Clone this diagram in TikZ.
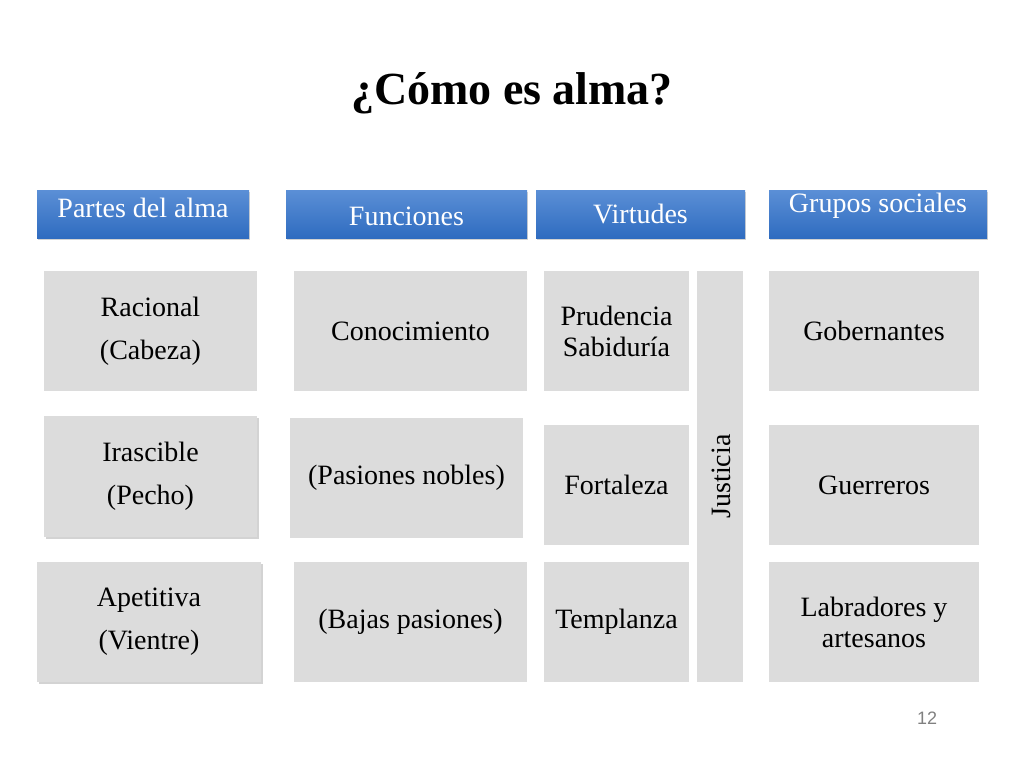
\documentclass[tikz,border=0pt]{standalone}
\usepackage{fontspec}
\setmainfont{Liberation Serif}
\setsansfont{Liberation Sans}
\usetikzlibrary{shadows}
\definecolor{hdrA}{HTML}{5B8FD6}
\definecolor{hdrB}{HTML}{2F6CC0}
\definecolor{boxg}{HTML}{DCDCDC}
\tikzset{x=1pt,y=-1pt,
 hdr/.style={top color=hdrA,bottom color=hdrB,draw=none,drop shadow={opacity=0.35,shadow xshift=1pt,shadow yshift=-2pt},text=white,font=\fontsize{28}{32}\selectfont},
 gbox/.style={fill=boxg,draw=none,font=\fontsize{28}{43}\selectfont},
 sbox/.style={gbox,drop shadow={opacity=0.35,shadow xshift=2pt,shadow yshift=-2pt}}}
\begin{document}
\begin{tikzpicture}
\useasboundingbox (0,0) rectangle (1024,768);
\node (title) at (512,93) {\fontsize{46}{50}\selectfont\bfseries ¿Cómo es alma?};
\path[hdr] (37,190) rectangle (249,238) node[midway,yshift=6pt] (h1) {Partes del alma};
\path[hdr] (286,190) rectangle (527,238) node[midway,yshift=-2pt] (h2) {Funciones};
\path[hdr] (536,190) rectangle (745,238) node[midway] (h3) {Virtudes};
\path[hdr] (769,190) rectangle (987,238) node[midway,yshift=8pt] (h4) {Grupos sociales};
\path[gbox] (44,271) rectangle (257,391) node[midway,align=center] (r1) {Racional\\(Cabeza)};
\path[gbox] (294,271) rectangle (527,391) node[midway] (f1) {Conocimiento};
\path[gbox] (544,271) rectangle (689,391) node[midway,align=center,font=\fontsize{28}{31}\selectfont] (v1) {Prudencia\\Sabiduría};
\path[gbox] (697,271) rectangle (743,682) node[midway,rotate=90,yshift=-1pt] (j) {Justicia};
\path[gbox] (769,271) rectangle (979,391) node[midway] (g1) {Gobernantes};
\path[sbox] (44,416) rectangle (257,537) node[midway,align=center] (r2) {Irascible\\(Pecho)};
\path[gbox] (290,418) rectangle (523,538) node[midway] (f2) {(Pasiones nobles)};
\path[gbox] (544,425) rectangle (689,545) node[midway] (v2) {Fortaleza};
\path[gbox] (769,425) rectangle (979,545) node[midway] (g2) {Guerreros};
\path[sbox] (37,562) rectangle (261,682) node[midway,align=center] (r3) {Apetitiva\\(Vientre)};
\path[gbox] (294,562) rectangle (527,682) node[midway] (f3) {(Bajas pasiones)};
\path[gbox] (544,562) rectangle (689,682) node[midway] (v3) {Templanza};
\path[gbox] (769,562) rectangle (979,682) node[midway,align=center,font=\fontsize{28}{31}\selectfont] (g3) {Labradores y\\artesanos};
\node[text=gray,font=\sffamily\fontsize{18}{20}\selectfont] (pg) at (927,718) {12};
\end{tikzpicture}
\end{document}
